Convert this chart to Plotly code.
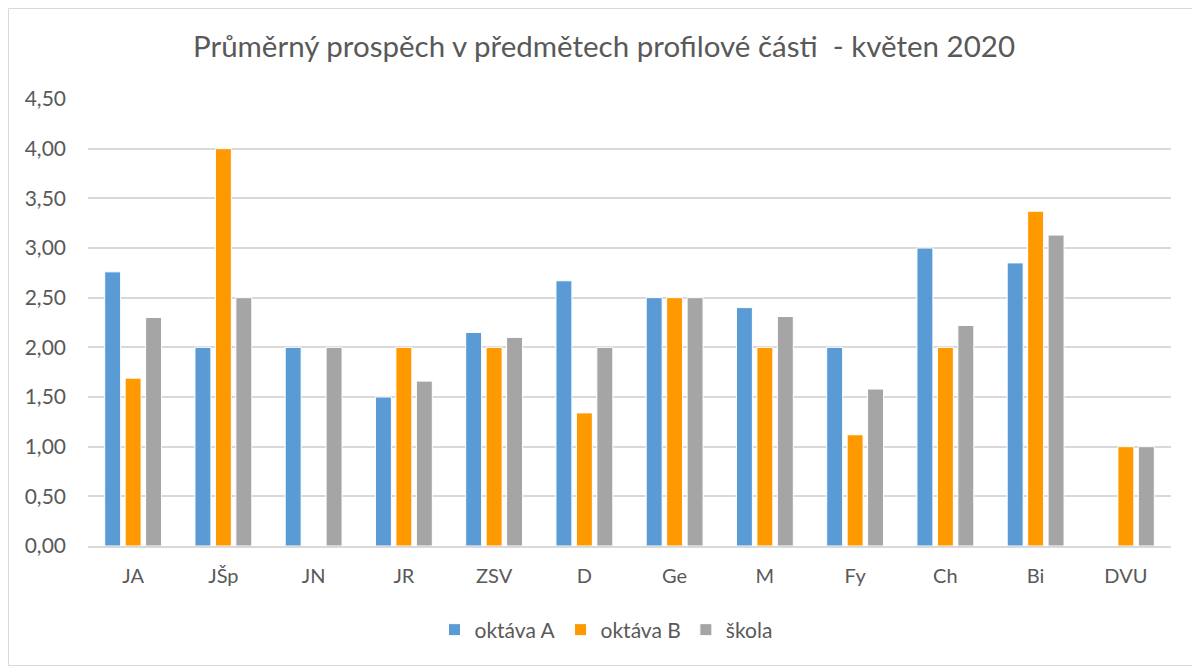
import plotly.graph_objects as go

categories = ["JA", "JŠp", "JN", "JR", "ZSV", "D", "Ge", "M", "Fy", "Ch", "Bi", "DVU"]
oktava_a = [2.76, 2.00, 2.00, 1.50, 2.15, 2.67, 2.50, 2.40, 2.00, 3.00, 2.85, None]
oktava_b = [1.69, 4.00, None, 2.00, 2.00, 1.34, 2.50, 2.00, 1.12, 2.00, 3.37, 1.00]
skola = [2.30, 2.50, 2.00, 1.66, 2.10, 2.00, 2.50, 2.31, 1.58, 2.22, 3.13, 1.00]
y_ticks = [0, 0.5, 1, 1.5, 2, 2.5, 3, 3.5, 4, 4.5]
y_tick_labels = ["0,00", "0,50", "1,00", "1,50", "2,00", "2,50", "3,00", "3,50", "4,00", "4,50"]

font_family = "Lato, Open Sans, sans-serif"
text_color = "#595959"

fig = go.Figure()
for name, vals, color in [("oktáva A", oktava_a, "#5B9BD5"),
                          ("oktáva B", oktava_b, "#FF9900"),
                          ("škola", skola, "#A5A5A5")]:
    fig.add_trace(go.Bar(x=categories, y=vals, name=name,
                         marker=dict(color=color, line=dict(color="white", width=1))))

# page has an 8px body margin; figure sized to fit the 1200x666 window
OFF = 8
W, H = 1192, 658
L, T = 88 - OFF, 99 - OFF
R = W - (1171 - OFF)
B = H - (546 - OFF)
pw = W - L - R
ph = H - T - B

def px(x):
    return (x - OFF - L) / pw

def py(y):
    return (H - B - (y - OFF)) / ph

fig.update_layout(
    width=W, height=H,
    margin=dict(l=L, r=R, t=T, b=B, autoexpand=False),
    paper_bgcolor="white", plot_bgcolor="white",
    barmode="group", bargap=0.32, bargroupgap=0.22,
    title=dict(text="Průměrný prospěch v předmětech profilové části  - květen 2020",
               x=0.5, xanchor="center", y=1 - (47 - OFF) / H, yanchor="middle",
               font=dict(family=font_family, size=29.5, color=text_color)),
    font=dict(family=font_family, size=20, color=text_color),
    xaxis=dict(showgrid=False, showline=True, linecolor="#D9D9D9", linewidth=1.5,
               ticks="", tickfont=dict(size=20, color=text_color), ticklabelstandoff=11),
    yaxis=dict(range=[0, 4.5], tickvals=y_ticks, ticktext=y_tick_labels,
               showgrid=True, gridcolor="#D9D9D9", gridwidth=1.5,
               zeroline=False, showline=False, ticks="",
               tickfont=dict(size=21, color=text_color), ticklabelstandoff=21),
    legend=dict(orientation="h", x=px(606), xanchor="center", y=py(630), yanchor="middle",
                font=dict(size=21, color=text_color), itemwidth=30,
                traceorder="normal"),
    shapes=[dict(type="rect", xref="paper", yref="paper",
                 x0=px(8.5), x1=px(1199), y0=py(665.5), y1=py(8.5),
                 line=dict(color="#D9D9D9", width=1), fillcolor="rgba(0,0,0,0)",
                 layer="below")],
)

fig.write_html("out.html")
